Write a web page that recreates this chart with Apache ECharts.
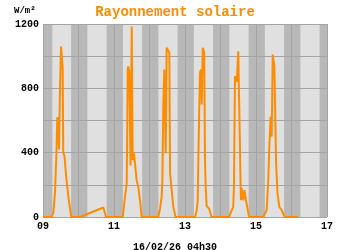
<!DOCTYPE html>
<html>
<head>
<meta charset="utf-8">
<script src="https://cdn.jsdelivr.net/npm/echarts@6/dist/echarts.min.js"></script>
<style>html,body{margin:0;padding:0;background:#fff}#c{width:350px;height:250px}</style>
</head>
<body>
<div id="c"></div>
<script>
// hours since 09 00:00
var hours = [
  0, 5.9, 7.0, 8.1, 9.1, 9.7, 10.3, 10.8, 11.5, 12.2, 13.0, 13.3, 13.7, 14.5, 15.8, 17.1, 18.3, 19.1,
  25.0, 40.8, 42.6,
  53.9, 55.4, 56.6, 57.0, 57.3, 57.7, 58.3, 59.2, 60.0, 60.6, 61.5, 62.2, 63.3, 64.4, 65.6, 66.7,
  77.9, 79.1, 80.2, 80.7, 81.3, 82.0, 83.0, 83.6, 84.7, 85.4, 85.9, 87.0, 88.1, 89.6,
  102.8, 103.9, 104.6, 105.0, 105.5, 106.1, 106.8, 107.3, 108.0, 109.0, 109.5, 110.0, 110.6, 112.4, 113.9,
  125.7, 127.6, 128.6, 129.1, 129.8, 130.5, 131.0, 132.0, 133.2, 133.8, 134.3, 135.4, 136.2, 137.2, 138.1, 139.3,
  148.9, 151.2, 152.3, 153.0, 153.9, 154.6, 155.3, 155.9, 156.4, 157.6, 158.5, 159.8, 161.4, 162.4, 163.6, 172.5
];
var radiation = [
  0, 0, 30, 150, 400, 620, 600, 420, 800, 1060, 1060, 920, 400, 380, 240, 130, 50, 0,
  0, 59, 0,
  0, 125, 209, 600, 917, 937, 900, 320, 1184, 354, 396, 333, 229, 187, 104, 0,
  0, 50, 125, 229, 667, 917, 396, 1052, 1046, 1021, 271, 167, 62, 0,
  0, 42, 104, 354, 604, 896, 917, 700, 1052, 1021, 354, 187, 70, 50, 0,
  0, 42, 62, 187, 875, 885, 840, 1031, 1031, 104, 179, 104, 167, 104, 62, 0,
  0, 42, 229, 437, 625, 500, 1010, 1000, 937, 333, 150, 62, 42, 20, 0, 0
];
// darker bands (hours since 09 00:00)
var bandStart = [0, 19, 43, 67, 91, 115, 139, 163, 187];
var bandEnd   = [6.3, 30, 54, 78, 102, 126, 150, 174, 192];

var dayStart = 9, dayEnd = 17;
var titleText = 'Rayonnement solaire';
var unitText = 'W/m²';
var stampText = '16/02/26 04h30';

var toDay = function (h) { return dayStart + h / 24; };
var lineData = hours.map(function (h, i) { return [toDay(h), radiation[i]]; });
var areas = bandStart.map(function (s, i) { return [{xAxis: toDay(s)}, {xAxis: toDay(bandEnd[i])}]; });

var font = '"Liberation Mono", "DejaVu Sans Mono", monospace';
var chart = echarts.init(document.getElementById('c'), null, {renderer: 'canvas'});
chart.setOption({
  animation: false,
  backgroundColor: '#ffffff',
  title: [
    {text: titleText, left: 'center', top: 0, textStyle: {fontFamily: font, fontSize: 14, fontWeight: 'bold', color: '#ff8c00'}},
    {text: unitText, left: 9, top: 1, textStyle: {fontFamily: font, fontSize: 9, fontWeight: 'bold', color: '#000'}},
    {text: stampText, left: 'center', top: 237, textStyle: {fontFamily: font, fontSize: 10, fontWeight: 'bold', color: '#000'}}
  ],
  grid: {left: 43, right: 23, top: 24, bottom: 33, show: true, backgroundColor: '#e0e0e0', borderWidth: 0, containLabel: false},
  xAxis: {
    type: 'value', min: dayStart, max: dayEnd, interval: 1, z: 2,
    axisLine: {show: false}, axisTick: {show: false},
    splitLine: {show: true, lineStyle: {color: '#a4a4a4', width: 1}},
    axisLabel: {
      margin: 4, color: '#000', fontFamily: font, fontSize: 10, fontWeight: 'bold',
      formatter: function (v) { return (v % 2 === 1) ? String(v).padStart(2, '0') : ''; }
    }
  },
  yAxis: {
    type: 'value', min: 0, max: 1200, interval: 200, z: 2,
    axisLine: {show: false}, axisTick: {show: false},
    splitLine: {show: true, lineStyle: {color: '#a4a4a4', width: 1}},
    axisLabel: {
      margin: 4, color: '#000', fontFamily: font, fontSize: 10, fontWeight: 'bold',
      formatter: function (v) { return (v % 400 === 0) ? String(v) : ''; }
    }
  },
  series: [
    {
      type: 'line', data: [], z: 1, silent: true,
      markArea: {silent: true, itemStyle: {color: '#b8b8b8'}, data: areas}
    },
    {
      type: 'line', data: lineData, z: 3, showSymbol: false, smooth: false,
      lineStyle: {color: '#ff8c00', width: 2}, itemStyle: {color: '#ff8c00'}
    }
  ]
});
</script>
</body>
</html>
